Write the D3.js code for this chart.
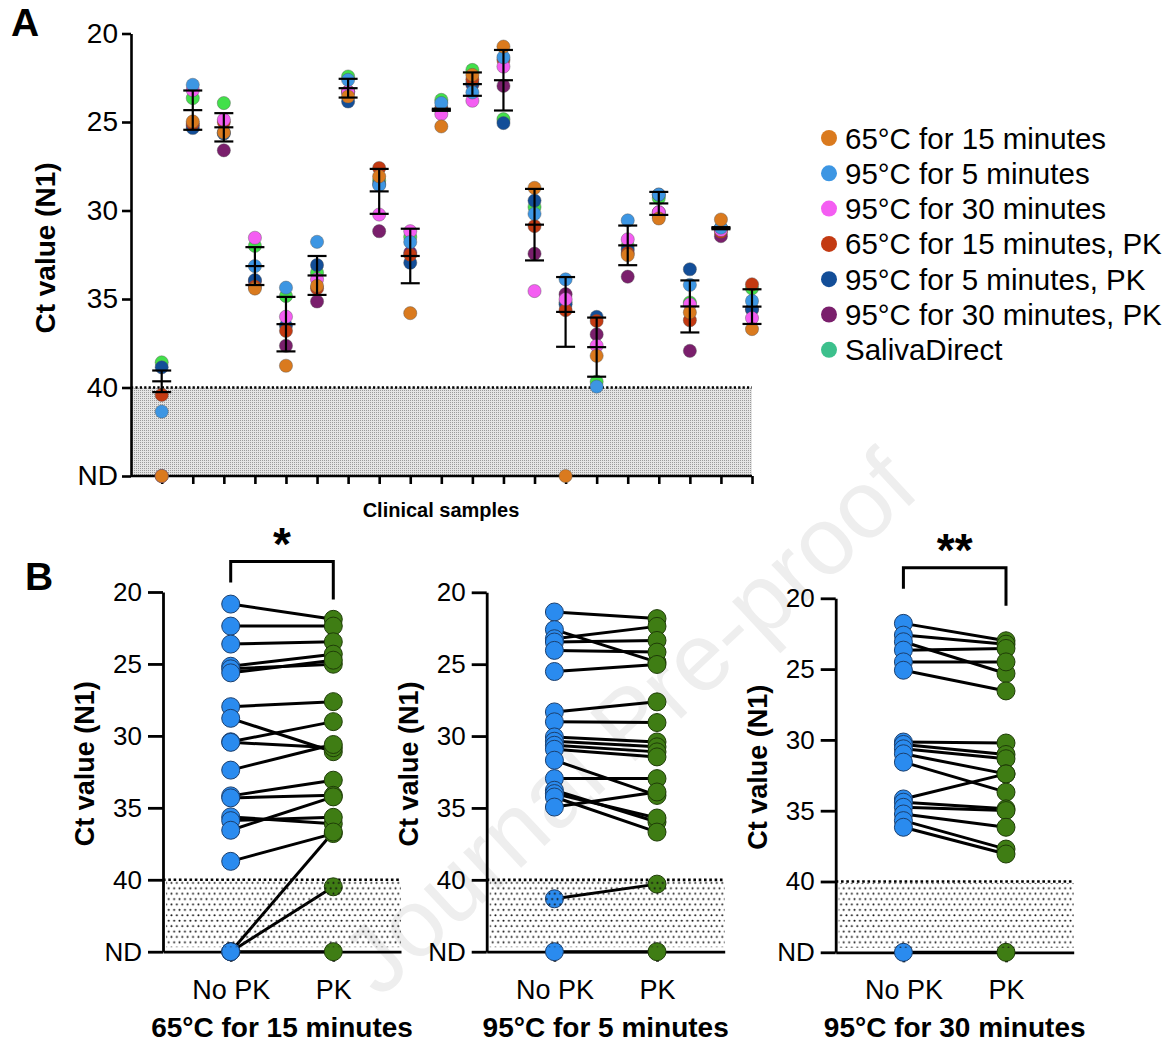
<!DOCTYPE html>
<html>
<head>
<meta charset="utf-8">
<script src="https://cdn.jsdelivr.net/npm/d3@7"></script>
<style>
body{margin:0;background:#fff;}
svg{font-family:"Liberation Sans",Arial,Helvetica,sans-serif;}
</style>
</head>
<body>
<div class="fig"></div>
<script>
// ---------- data (Ct values, "ND" = not detected) ----------
var samples=["S1","S2","S3","S4","S5","S6","S7","S8","S9","S10","S11","S12","S13","S14","S15","S16","S17","S18","S19","S20"];
var conditions=["65°C for 15 minutes","95°C for 5 minutes","95°C for 30 minutes","65°C for 15 minutes, PK","95°C for 5 minutes, PK","95°C for 30 minutes, PK","SalivaDirect"];

var ct65_15=["ND",24.97,25.59,34.41,38.77,34.26,23.56,28.07,35.8,25.25,22.34,20.74,28.72,"ND",38.21,32.52,30.45,35.76,30.51,36.7];
var ct95_5=[41.36,22.9,25.6,33.14,34.36,31.77,22.62,28.57,31.78,23.93,23.33,21.34,30.19,33.89,39.95,30.56,29.1,34.2,30.97,35.11];
var ct95_30=["ND",23.2,24.87,31.54,36.0,33.89,23.3,30.23,31.17,24.55,23.8,21.87,34.55,35.01,37.64,31.63,30.1,35.3,31.1,36.08];
var ct65_15PK=[40.42,25.1,25.0,34.3,36.8,34.4,23.28,27.6,32.5,24.3,22.6,21.5,30.88,35.63,36.24,32.4,30.3,36.2,31.2,34.17];
var ct95_5PK=[38.86,25.34,25.65,33.93,36.5,33.08,23.84,28.5,32.95,24.2,22.81,25.06,29.44,35.3,36.01,32.2,29.1,33.32,31.0,35.58];
var ct95_30PK=["ND",25.2,26.6,34.0,37.64,35.14,23.3,31.17,32.38,24.3,22.9,22.96,32.44,34.73,37.0,33.74,30.1,37.93,31.45,35.6];
var ctSaliva=[38.58,23.65,23.93,32.0,34.83,33.51,22.43,28.3,31.5,23.75,22.06,24.84,29.8,35.2,39.67,32.0,29.3,35.2,31.0,34.4];

var sampleMean=[39.65,24.33,25.3,33.14,36.42,33.67,23.09,28.92,32.57,24.31,22.86,22.64,30.8,35.73,37.72,31.97,29.6,35.42,31.0,35.43];
var sampleSD=[0.61,1.11,0.8,1.07,1.54,1.1,0.53,1.27,1.54,0.06,0.66,1.71,2.02,1.97,1.67,1.12,0.65,1.47,0.06,0.98];

var yTickValues=[20,25,30,35,40,45];
var yTickLabels=["20","25","30","35","40","ND"];
var pkGroups=["No PK","PK"];

var b65NoPK=[20.84,22.37,23.62,25.16,25.34,25.62,27.97,28.78,30.41,30.45,32.38,34.17,34.31,35.63,35.89,36.56,38.72,"ND","ND","ND"];
var b65PK=[21.9,22.37,23.46,24.32,25.02,24.74,27.62,31.1,29.01,30.82,30.6,33.08,34.13,36.1,35.66,34.24,36.79,36.68,40.49,"ND"];
var b5NoPK=[21.37,22.6,23.23,23.46,24.04,25.51,28.32,29.01,30.06,30.36,30.64,30.92,31.68,32.96,33.77,34.0,34.24,34.94,41.32,"ND"];
var b5PK=[21.83,24.86,22.37,23.35,24.16,25.02,27.62,29.06,30.41,30.75,31.1,31.45,34.13,32.96,35.98,35.7,36.68,33.89,40.3,"ND"];
var b30NoPK=[21.77,22.6,23.07,23.66,24.49,25.08,30.15,30.32,30.63,30.98,31.57,34.17,34.4,34.76,35.23,35.7,36.17,"ND"];
var b30PK=[23.0,23.24,25.31,23.54,24.49,26.54,30.22,31.03,31.33,32.4,33.69,32.4,34.87,34.99,36.17,37.71,38.06,"ND"];

// ---------- helpers ----------
var ND_LEVEL=45;
function ctv(v){ return v==="ND" ? ND_LEVEL : v; }

var seriesA=[ct65_15,ct95_5,ct95_30,ct65_15PK,ct95_5PK,ct95_30PK,ctSaliva];
var pointColors=["#DA7A1E","#3D96E3","#F45DF2","#C33A12","#134E98","#7A1F6C","#42E04A"];
var legendColors=["#DA7A1E","#3D96E3","#F45DF2","#C33A12","#134E98","#7A1F6C","#3CC08C"];
var drawOrder=[6,5,4,3,2,1,0];

var svg=d3.select(".fig").append("svg")
  .attr("width",1173)
  .attr("height",1045);

var defs=svg.append("defs");
var pa=defs.append("pattern").attr("id","stippleA")
  .attr("patternUnits","userSpaceOnUse").attr("width",2).attr("height",2);
pa.append("rect").attr("width",2).attr("height",2).attr("fill","#e4e4e4");
pa.append("rect").attr("width",1).attr("height",1).attr("fill","#9a9a9a");
var pb=defs.append("pattern").attr("id","dotsB")
  .attr("patternUnits","userSpaceOnUse").attr("width",5.4).attr("height",10.8);
pb.append("circle").attr("cx",1.35).attr("cy",2.7).attr("r",1).attr("fill","#111");
pb.append("circle").attr("cx",4.05).attr("cy",8.1).attr("r",1).attr("fill","#111");

// watermark
svg.append("text")
  .text("Journal Pre-proof")
  .attr("transform","translate(628,722) rotate(-43)")
  .attr("text-anchor","middle")
  .attr("dy","0.35em")
  .attr("font-size",96)
  .attr("fill","#eeeeee");

function styleAxis(g,w,fs){
  g.selectAll(".domain").attr("stroke","#000").attr("stroke-width",w);
  g.selectAll(".tick line").attr("stroke","#000").attr("stroke-width",w);
  g.selectAll(".tick text").attr("fill","#000").attr("font-size",fs);
}

// ================= Panel A =================
var A={left:131, right:752, top:33.5, bottom:476};
var yA=d3.scaleLinear().domain([20,ND_LEVEL]).range([A.top,A.bottom]);
var xA=d3.scalePoint().domain(samples).range([161.7,A.right]);

svg.append("rect")
  .attr("x",A.left).attr("y",yA(40))
  .attr("width",A.right-A.left).attr("height",yA(ND_LEVEL)-yA(40))
  .attr("fill","url(#stippleA)");
svg.append("line")
  .attr("x1",A.left).attr("x2",A.right)
  .attr("y1",yA(40)).attr("y2",yA(40))
  .attr("stroke","#000").attr("stroke-width",2.5).attr("stroke-dasharray","2.2,2.2");

var gyA=svg.append("g")
  .attr("transform","translate("+A.left+",0)")
  .call(d3.axisLeft(yA).tickValues(yTickValues).tickFormat(function(d,i){return yTickLabels[i];}).tickSize(9).tickSizeOuter(0).tickPadding(4));
styleAxis(gyA,2.6,28);

var gxA=svg.append("g")
  .attr("transform","translate(0,"+A.bottom+")")
  .call(d3.axisBottom(xA).tickSize(8).tickSizeOuter(0).tickFormat(""));
gxA.select(".domain").attr("d","M"+A.left+",0H"+A.right);
styleAxis(gxA,2.6,10);

// points
drawOrder.forEach(function(si){
  svg.append("g").selectAll("circle")
    .data(seriesA[si])
    .enter()
    .append("circle")
    .attr("cx",function(d,i){return xA(samples[i]);})
    .attr("cy",function(d){return yA(ctv(d));})
    .attr("r",6.6)
    .attr("fill",pointColors[si])
    .attr("stroke","#555")
    .attr("stroke-opacity",0.6)
    .attr("stroke-width",0.7);
});

// mean +/- SD
var eb=svg.append("g").attr("stroke","#000").attr("stroke-width",2.2);
samples.forEach(function(s,i){
  var x=xA(s), m=sampleMean[i], sd=sampleSD[i];
  eb.append("line").attr("x1",x).attr("x2",x).attr("y1",yA(m-sd)).attr("y2",yA(m+sd));
  [m-sd,m,m+sd].forEach(function(v){
    eb.append("line").attr("x1",x-9.5).attr("x2",x+9.5).attr("y1",yA(v)).attr("y2",yA(v));
  });
});

svg.append("text")
  .text("Ct value (N1)")
  .attr("transform","translate(45,248) rotate(-90)")
  .attr("text-anchor","middle").attr("dy","0.35em")
  .attr("font-size",28).attr("font-weight","bold");

svg.append("text")
  .text("Clinical samples")
  .attr("x",441).attr("y",517)
  .attr("text-anchor","middle")
  .attr("font-size",20).attr("font-weight","bold");

svg.append("text").text("A").attr("x",11).attr("y",36)
  .attr("font-size",39).attr("font-weight","bold");
svg.append("text").text("B").attr("x",25).attr("y",590)
  .attr("font-size",39).attr("font-weight","bold");

// legend
var leg=svg.append("g");
conditions.forEach(function(c,i){
  var ly=138+i*35.3;
  leg.append("circle").attr("cx",829).attr("cy",ly).attr("r",8).attr("fill",legendColors[i]);
  leg.append("text").text(c).attr("x",845).attr("y",ly+10.5).attr("font-size",29.5).attr("fill","#000");
});

// ================= Panel B =================
var panelsB=[
  {noPK:b65NoPK, pk:b65PK, title:"65°C for 15 minutes", x0:163, top:592, nd:951.7, sig:"*"},
  {noPK:b5NoPK, pk:b5PK, title:"95°C for 5 minutes", x0:486.7, top:592.3, nd:951.7, sig:null},
  {noPK:b30NoPK, pk:b30PK, title:"95°C for 30 minutes", x0:835.7, top:598.3, nd:952.3, sig:"**"}
];

panelsB.forEach(function(p){
  var x1=p.x0+238;
  var y=d3.scaleLinear().domain([20,ND_LEVEL]).range([p.top,p.nd]);
  var x=d3.scalePoint().domain(pkGroups).range([p.x0,x1]).padding(0.66);
  var g=svg.append("g");

  g.append("line")
    .attr("x1",p.x0).attr("x2",x1).attr("y1",y(40)).attr("y2",y(40))
    .attr("stroke","#000").attr("stroke-width",2.7).attr("stroke-dasharray","2.6,2.7");

  var gy=g.append("g").attr("transform","translate("+p.x0+",0)")
    .call(d3.axisLeft(y).tickValues(yTickValues).tickFormat(function(d,i){return yTickLabels[i];}).tickSize(15).tickSizeOuter(0).tickPadding(6));
  styleAxis(gy,2.8,26);

  var gx=g.append("g").attr("transform","translate(0,"+p.nd+")")
    .call(d3.axisBottom(x).tickSize(10).tickSizeOuter(0).tickPadding(18));
  styleAxis(gx,2.8,27);

  // paired lines
  g.append("g").selectAll("line")
    .data(p.noPK)
    .enter()
    .append("line")
    .attr("x1",x("No PK")).attr("x2",x("PK"))
    .attr("y1",function(d){return y(ctv(d));})
    .attr("y2",function(d,i){return y(ctv(p.pk[i]));})
    .attr("stroke","#000").attr("stroke-width",3);

  g.append("g").selectAll("circle")
    .data(p.noPK).enter().append("circle")
    .attr("cx",x("No PK")).attr("cy",function(d){return y(ctv(d));})
    .attr("r",9).attr("fill","#2A8BEF").attr("stroke","#1b3f6e").attr("stroke-width",1);
  g.append("g").selectAll("circle")
    .data(p.pk).enter().append("circle")
    .attr("cx",x("PK")).attr("cy",function(d){return y(ctv(d));})
    .attr("r",9).attr("fill","#3F7D14").attr("stroke","#1f3d08").attr("stroke-width",1);

  // dotted ND zone drawn over the marks
  g.append("rect")
    .attr("x",p.x0+3).attr("y",y(40)+1.5)
    .attr("width",x1-p.x0-3).attr("height",y(ND_LEVEL)-y(40)-6)
    .attr("fill","url(#dotsB)");

  g.append("text")
    .text("Ct value (N1)")
    .attr("transform","translate("+(p.x0-78)+","+((p.top+p.nd)/2-8)+") rotate(-90)")
    .attr("text-anchor","middle").attr("dy","0.35em")
    .attr("font-size",27).attr("font-weight","bold");

  g.append("text")
    .text(p.title)
    .attr("x",(p.x0+x1)/2).attr("y",1037)
    .attr("text-anchor","middle")
    .attr("font-size",28).attr("font-weight","bold");

  if(p.sig){
    var by=p.top-30.5;
    g.append("path")
      .attr("d","M"+x("No PK")+","+(by+21)+"V"+by+"H"+x("PK")+"V"+(by+38))
      .attr("fill","none").attr("stroke","#000").attr("stroke-width",3);
    g.append("text")
      .text(p.sig)
      .attr("x",(x("No PK")+x("PK"))/2).attr("y",by-2)
      .attr("text-anchor","middle")
      .attr("font-size",46).attr("font-weight","bold");
  }
});
</script>
</body>
</html>
